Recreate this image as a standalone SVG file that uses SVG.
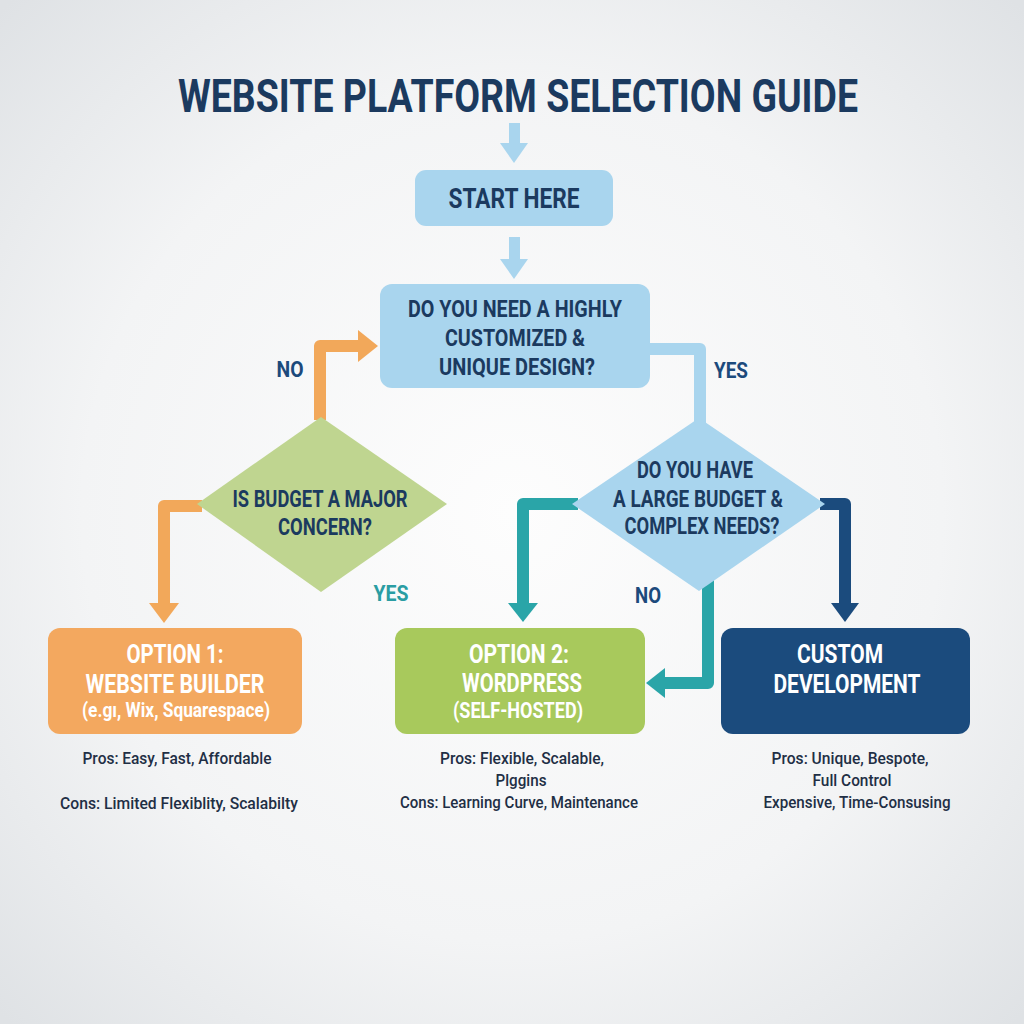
<svg xmlns="http://www.w3.org/2000/svg" width="1024" height="1024" viewBox="0 0 1024 1024">
<defs>
<radialGradient id="bg" cx="50%" cy="50%" r="70%">
<stop offset="0" stop-color="#fdfdfd"/>
<stop offset="0.6" stop-color="#f3f4f5"/>
<stop offset="1" stop-color="#dfe2e5"/>
</radialGradient>
<style>
text{font-family:Roboto,"Liberation Sans",sans-serif;font-weight:bold;text-anchor:middle}
.dark{fill:#1b3a5f}
.lbl{fill:#1c4a7c;font-size:22px}
.white{fill:#ffffff}
.note{fill:#1f2f45;font-size:17px;font-weight:500}
.c{fill:none;stroke-width:12;stroke-linejoin:round}
</style>
</defs>
<rect width="1024" height="1024" fill="url(#bg)"/>
<text class="dark" x="518" y="112" font-size="46" textLength="680" lengthAdjust="spacingAndGlyphs">WEBSITE PLATFORM SELECTION GUIDE</text>

<g id="connectors">
<rect x="509" y="123" width="11" height="22" fill="#a9d5ee"/>
<polygon points="500,143 528,143 514,163" fill="#a9d5ee"/>
<rect x="509" y="237" width="11" height="24" fill="#a9d5ee"/>
<polygon points="500,259 528,259 514,279" fill="#a9d5ee"/>
<path class="c" d="M320,420 V346 H360" stroke="#f2a85a"/>
<polygon points="358,330 378,346 358,362" fill="#f2a85a"/>
<path class="c" d="M202,506 H164 V605" stroke="#f2a85a"/>
<polygon points="149,603 179,603 164,623" fill="#f2a85a"/>
<path class="c" d="M640,349 H700 V425" stroke="#a9d5ee"/>
<path class="c" d="M578,504 H523 V605" stroke="#2aa5a8"/>
<polygon points="508,603 538,603 523,622" fill="#2aa5a8"/>
<path class="c" d="M820,504 H845 V605" stroke="#1b4b7d"/>
<polygon points="831,603 859,603 845,622" fill="#1b4b7d"/>
<path class="c" d="M708,575 V683 H663" stroke="#2aa5a8"/>
<polygon points="665,668 665,698 646,683" fill="#2aa5a8"/>
</g>

<g id="title-labels">
<text class="lbl" x="290" y="377" textLength="27" lengthAdjust="spacingAndGlyphs">NO</text>
<text class="lbl" x="731" y="378" textLength="34" lengthAdjust="spacingAndGlyphs">YES</text>
<text class="lbl" x="391" y="601" textLength="35" lengthAdjust="spacingAndGlyphs" style="fill:#2a9da3">YES</text>
<text class="lbl" x="648" y="603" textLength="26" lengthAdjust="spacingAndGlyphs">NO</text>
</g>

<g id="start">
<rect x="415" y="170" width="198" height="56" rx="11" fill="#a9d5ee"/>
<text class="dark" x="514" y="208" font-size="27" textLength="131" lengthAdjust="spacingAndGlyphs">START HERE</text>
</g>

<g id="q-custom">
<rect x="380" y="284" width="270" height="104" rx="12" fill="#a9d5ee"/>
<text class="dark" font-size="24" x="515" y="317" textLength="214" lengthAdjust="spacingAndGlyphs">DO YOU NEED A HIGHLY</text>
<text class="dark" font-size="24" x="515" y="346" textLength="140" lengthAdjust="spacingAndGlyphs">CUSTOMIZED &amp;</text>
<text class="dark" font-size="24" x="517" y="375" textLength="156" lengthAdjust="spacingAndGlyphs">UNIQUE DESIGN?</text>
</g>

<g id="q-budget">
<polygon points="321,417 447,504 321,592 197,504" fill="#bfd590"/>
<text class="dark" font-size="24" x="320" y="507" textLength="175" lengthAdjust="spacingAndGlyphs">IS BUDGET A MAJOR</text>
<text class="dark" font-size="24" x="325" y="535" textLength="94" lengthAdjust="spacingAndGlyphs">CONCERN?</text>
</g>

<g id="q-large">
<polygon points="699,418 825,504 699,591 572,504" fill="#a9d5ee"/>
<text class="dark" font-size="24" x="695" y="478" textLength="116" lengthAdjust="spacingAndGlyphs">DO YOU HAVE</text>
<text class="dark" font-size="24" x="698" y="507" textLength="170" lengthAdjust="spacingAndGlyphs">A LARGE BUDGET &amp;</text>
<text class="dark" font-size="24" x="702" y="534" textLength="155" lengthAdjust="spacingAndGlyphs">COMPLEX NEEDS?</text>
</g>

<g id="option1">
<rect x="48" y="628" width="254" height="106" rx="12" fill="#f3a85f"/>
<text class="white" font-size="25" x="175" y="663" textLength="97" lengthAdjust="spacingAndGlyphs">OPTION 1:</text>
<text class="white" font-size="25" x="175" y="693" textLength="179" lengthAdjust="spacingAndGlyphs">WEBSITE BUILDER</text>
<text class="white" font-size="20" x="176" y="717" textLength="188" lengthAdjust="spacingAndGlyphs">(e.gı, Wix, Squarespace)</text>
<text class="note" x="177" y="764" textLength="189" lengthAdjust="spacingAndGlyphs">Pros: Easy, Fast, Affordable</text>
<text class="note" x="179" y="809" textLength="238" lengthAdjust="spacingAndGlyphs">Cons: Limited Flexiblity, Scalabilty</text>
</g>

<g id="option2">
<rect x="395" y="628" width="250" height="106" rx="12" fill="#a8c95c"/>
<text class="white" font-size="25" x="519" y="663" textLength="100" lengthAdjust="spacingAndGlyphs">OPTION 2:</text>
<text class="white" font-size="25" x="522" y="692" textLength="120" lengthAdjust="spacingAndGlyphs">WORDPRESS</text>
<text class="white" font-size="22" x="518" y="718" textLength="130" lengthAdjust="spacingAndGlyphs">(SELF-HOSTED)</text>
<text class="note" x="522" y="764" textLength="164" lengthAdjust="spacingAndGlyphs">Pros: Flexible, Scalable,</text>
<text class="note" x="521" y="786" textLength="51" lengthAdjust="spacingAndGlyphs">Plggins</text>
<text class="note" x="519" y="808" textLength="238" lengthAdjust="spacingAndGlyphs">Cons: Learning Curve, Maintenance</text>
</g>

<g id="custom">
<rect x="721" y="628" width="249" height="106" rx="12" fill="#1b4b7d"/>
<text class="white" font-size="25" x="840" y="663" textLength="86" lengthAdjust="spacingAndGlyphs">CUSTOM</text>
<text class="white" font-size="25" x="847" y="693" textLength="147" lengthAdjust="spacingAndGlyphs">DEVELOPMENT</text>
<text class="note" x="850" y="764" textLength="157" lengthAdjust="spacingAndGlyphs">Pros: Unique, Bespote,</text>
<text class="note" x="852" y="786" textLength="79" lengthAdjust="spacingAndGlyphs">Full Control</text>
<text class="note" x="857" y="808" textLength="187" lengthAdjust="spacingAndGlyphs">Expensive, Time-Consusing</text>
</g>
</svg>
